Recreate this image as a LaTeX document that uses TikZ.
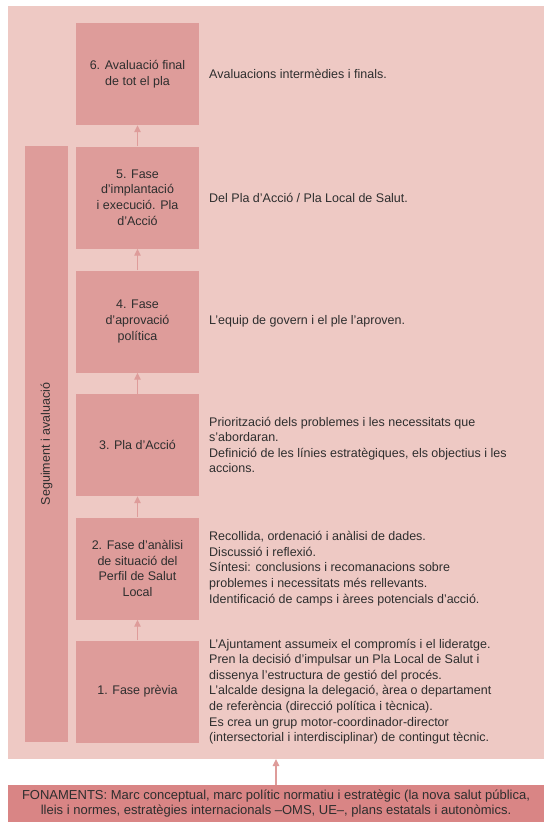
\documentclass[tikz,border=0pt]{standalone}
\usepackage{fontspec}
\setmainfont{Liberation Sans}
\usetikzlibrary{arrows.meta}
\definecolor{bgpink}{HTML}{EEC9C4}
\definecolor{boxpink}{HTML}{DE9C9A}
\definecolor{fonpink}{HTML}{D98585}
\definecolor{txt}{HTML}{2E2E2E}
\tikzset{
  phase/.style={fill=boxpink, draw=none, minimum width=123pt, minimum height=102pt, inner sep=0pt, align=center, text=txt, font=\fontsize{12.5}{15.8}\selectfont},
  desc/.style={anchor=west, align=left, inner sep=0pt, text=txt, font=\fontsize{12.5}{15.6}\selectfont},
  conn/.style={draw=boxpink, line width=1.3pt, -{Triangle[width=6.5pt,length=7pt]}}
}
\begin{document}
\begin{tikzpicture}[x=1pt,y=-1pt]
\useasboundingbox (0,0) rectangle (544,822);
\fill[white] (0,0) rectangle (544,822);
\fill[bgpink] (8,6) rectangle (544,759);
\node[fill=fonpink, minimum width=536pt, minimum height=37pt, inner sep=0pt, align=center, text=txt, font=\fontsize{13}{15}\selectfont] (fon) at (276,803.5) {FONAMENTS: Marc conceptual, marc polític normatiu i estratègic (la nova salut pública,\\lleis i normes, estratègies internacionals –OMS, UE–, plans estatals i autonòmics.};
\coordinate (outbot) at (fon.north |- 0,759);
\node[fill=boxpink, minimum width=43pt, minimum height=596pt, inner sep=0pt] (bar) at (46.5,444) {};
\node[rotate=90, text=txt, font=\fontsize{12.5}{15}\selectfont] (bartxt) at (bar.center) {Seguiment i avaluació};
\node[phase] (b6) at (137.5,74) {6. Avaluació final\\de tot el pla};
\node[phase] (b5) at (137.5,197.5) {5. Fase\\d'implantació\\i execució. Pla\\d'Acció};
\node[phase] (b4) at (137.5,321.5) {4. Fase\\d'aprovació\\política};
\node[phase] (b3) at (137.5,445) {3. Pla d'Acció};
\node[phase] (b2) at (137.5,568.5) {2. Fase d'anàlisi\\de situació del\\Perfil de Salut\\Local};
\node[phase] (b1) at (137.5,691.5) {1. Fase prèvia};
\node[desc] (d6) at (209,74) {Avaluacions intermèdies i finals.};
\node[desc] (d5) at (209,197.5) {Del Pla d'Acció / Pla Local de Salut.};
\node[desc] (d4) at (209,321.5) {L'equip de govern i el ple l'aproven.};
\node[desc] (d3) at (209,445) {Priorització dels problemes i les necessitats que\\s'abordaran.\\Definició de les línies estratègiques, els objectius i les\\accions.};
\node[desc] (d2) at (209,568.5) {Recollida, ordenació i anàlisi de dades.\\Discussió i reflexió.\\Síntesi: conclusions i recomanacions sobre\\problemes i necessitats més rellevants.\\Identificació de camps i àrees potencials d'acció.};
\node[desc] (d1) at (209,691.5) {L'Ajuntament assumeix el compromís i el lideratge.\\Pren la decisió d'impulsar un Pla Local de Salut i\\dissenya l'estructura de gestió del procés.\\L'alcalde designa la delegació, àrea o departament\\de referència (direcció política i tècnica).\\Es crea un grup motor-coordinador-director\\(intersectorial i interdisciplinar) de contingut tècnic.};
\draw[conn] (b1) -- (b2);
\draw[conn] (b2) -- (b3);
\draw[conn] (b3) -- (b4);
\draw[conn] (b4) -- (b5);
\draw[conn] (b5) -- (b6);
\draw[conn] (fon.north) -- (outbot);
\end{tikzpicture}
\end{document}
